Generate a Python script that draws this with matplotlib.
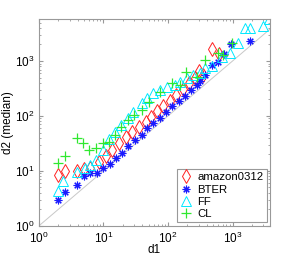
import numpy as np
import matplotlib
matplotlib.use('Agg')
import matplotlib.pyplot as plt

plt.rcParams['font.family'] = ['Liberation Sans', 'DejaVu Sans']
plt.rcParams['mathtext.default'] = 'regular'

# amazon0312 (red diamonds)
amazon_x = [2, 2.5, 3.9, 5, 6.2, 8.5, 10.8, 13.7, 17.4, 22, 28, 35.5, 45, 55, 68, 85,
            107, 135, 170, 210, 262, 306, 352, 475, 620]
amazon_y = [8.4, 10, 9.8, 10.9, 11.5, 14.3, 18.9, 24.3, 32, 41, 52, 64, 79, 97, 122, 150,
            190, 245, 310, 390, 484, 656, 550, 1620, 1330]

# BTER (blue asterisks)
bter_x = [2, 2.5, 3.9, 5, 6.2, 7.9, 9.9, 12.6, 15.4, 19.1, 24.3, 31, 39, 48, 59, 74, 93,
          117, 147, 185, 230, 280, 310, 375, 475, 600, 740, 960, 1870]
bter_y = [3.0, 4.1, 5.6, 8.2, 9.2, 9.3, 11.5, 13.5, 17.2, 21.2, 27.9, 36.9, 45.5, 60, 74, 92, 118,
          150, 185, 235, 295, 366, 440, 560, 850, 950, 1340, 2050, 2350]

# FF (cyan triangles)
ff_x = [2, 2.4, 3.9, 5.2, 6.3, 7.6, 9.9, 12, 15, 19, 24, 29, 39, 48, 59, 75, 95, 128, 153,
        195, 245, 310, 375, 475, 680, 910, 1200, 1560, 1850, 3000, 3700]
ff_y = [4.3, 6.5, 9.5, 11.3, 13, 16, 24, 38, 52, 69, 90, 118, 175, 215, 260, 300, 330, 365, 420,
        490, 550, 600, 735, 820, 1170, 1370, 2090, 3900, 3900, 4300, 5700]

# CL (green pluses)
cl_x = [2, 2.5, 3.9, 4.9, 6, 7.6, 9.7, 12.2, 15, 19, 24, 30, 39, 50, 75, 114, 153, 190,
        278, 375, 600, 720, 970]
cl_y = [14, 18.6, 39.6, 32, 24, 26, 32, 34, 45.5, 64, 85, 105, 130, 180, 270, 390, 365, 620,
        515, 1040, 1370, 1270, 2090]

fig = plt.figure(figsize=(2.99, 2.57), dpi=100)
ax = fig.add_axes([0.130, 0.121, 0.773, 0.805])

diag = [1, 3800]
ax.plot(diag, diag, color='#c8c8c8', lw=0.7, zorder=1)

ax.plot(amazon_x, amazon_y, ls='none', marker='d', ms=7, mfc='none', mec='#ff2020',
        mew=0.7, label='amazon0312')
ax.plot(bter_x, bter_y, ls='none', marker=(8, 2, 0), ms=5.5, mec='#1a1aff', mew=0.8,
        label='BTER')
ax.plot(ff_x, ff_y, ls='none', marker='^', ms=6.5, mfc='none', mec='#00e8ff', mew=0.7,
        label='FF')
ax.plot(cl_x, cl_y, ls='none', marker='+', ms=7, mec='#30e830', mew=0.9, label='CL')

ax.set_xscale('log')
ax.set_yscale('log')
ax.set_xlim(1, 3800)
ax.set_ylim(1, 5800)

for s in ax.spines.values():
    s.set_color('#999999')
    s.set_linewidth(0.8)
ax.tick_params(which='both', direction='in', top=True, right=True, color='#999999',
               labelsize=8.5)
ax.tick_params(axis='x', pad=3.5)
ax.tick_params(axis='y', pad=3)
ax.tick_params(which='major', length=3)
ax.tick_params(which='minor', length=1.5)

ax.set_xlabel('d1', fontsize=8.5, labelpad=-1.5)
ax.set_ylabel('d2 (median)', fontsize=8.5, labelpad=1)

leg = ax.legend(loc='lower right', fontsize=8.2, fancybox=False, framealpha=1,
                edgecolor='#999999', handlelength=1.0, handletextpad=0.5,
                borderpad=0.3, labelspacing=0.2, borderaxespad=0.3)
leg.get_frame().set_linewidth(0.8)

fig.savefig('out.png', dpi=100)
